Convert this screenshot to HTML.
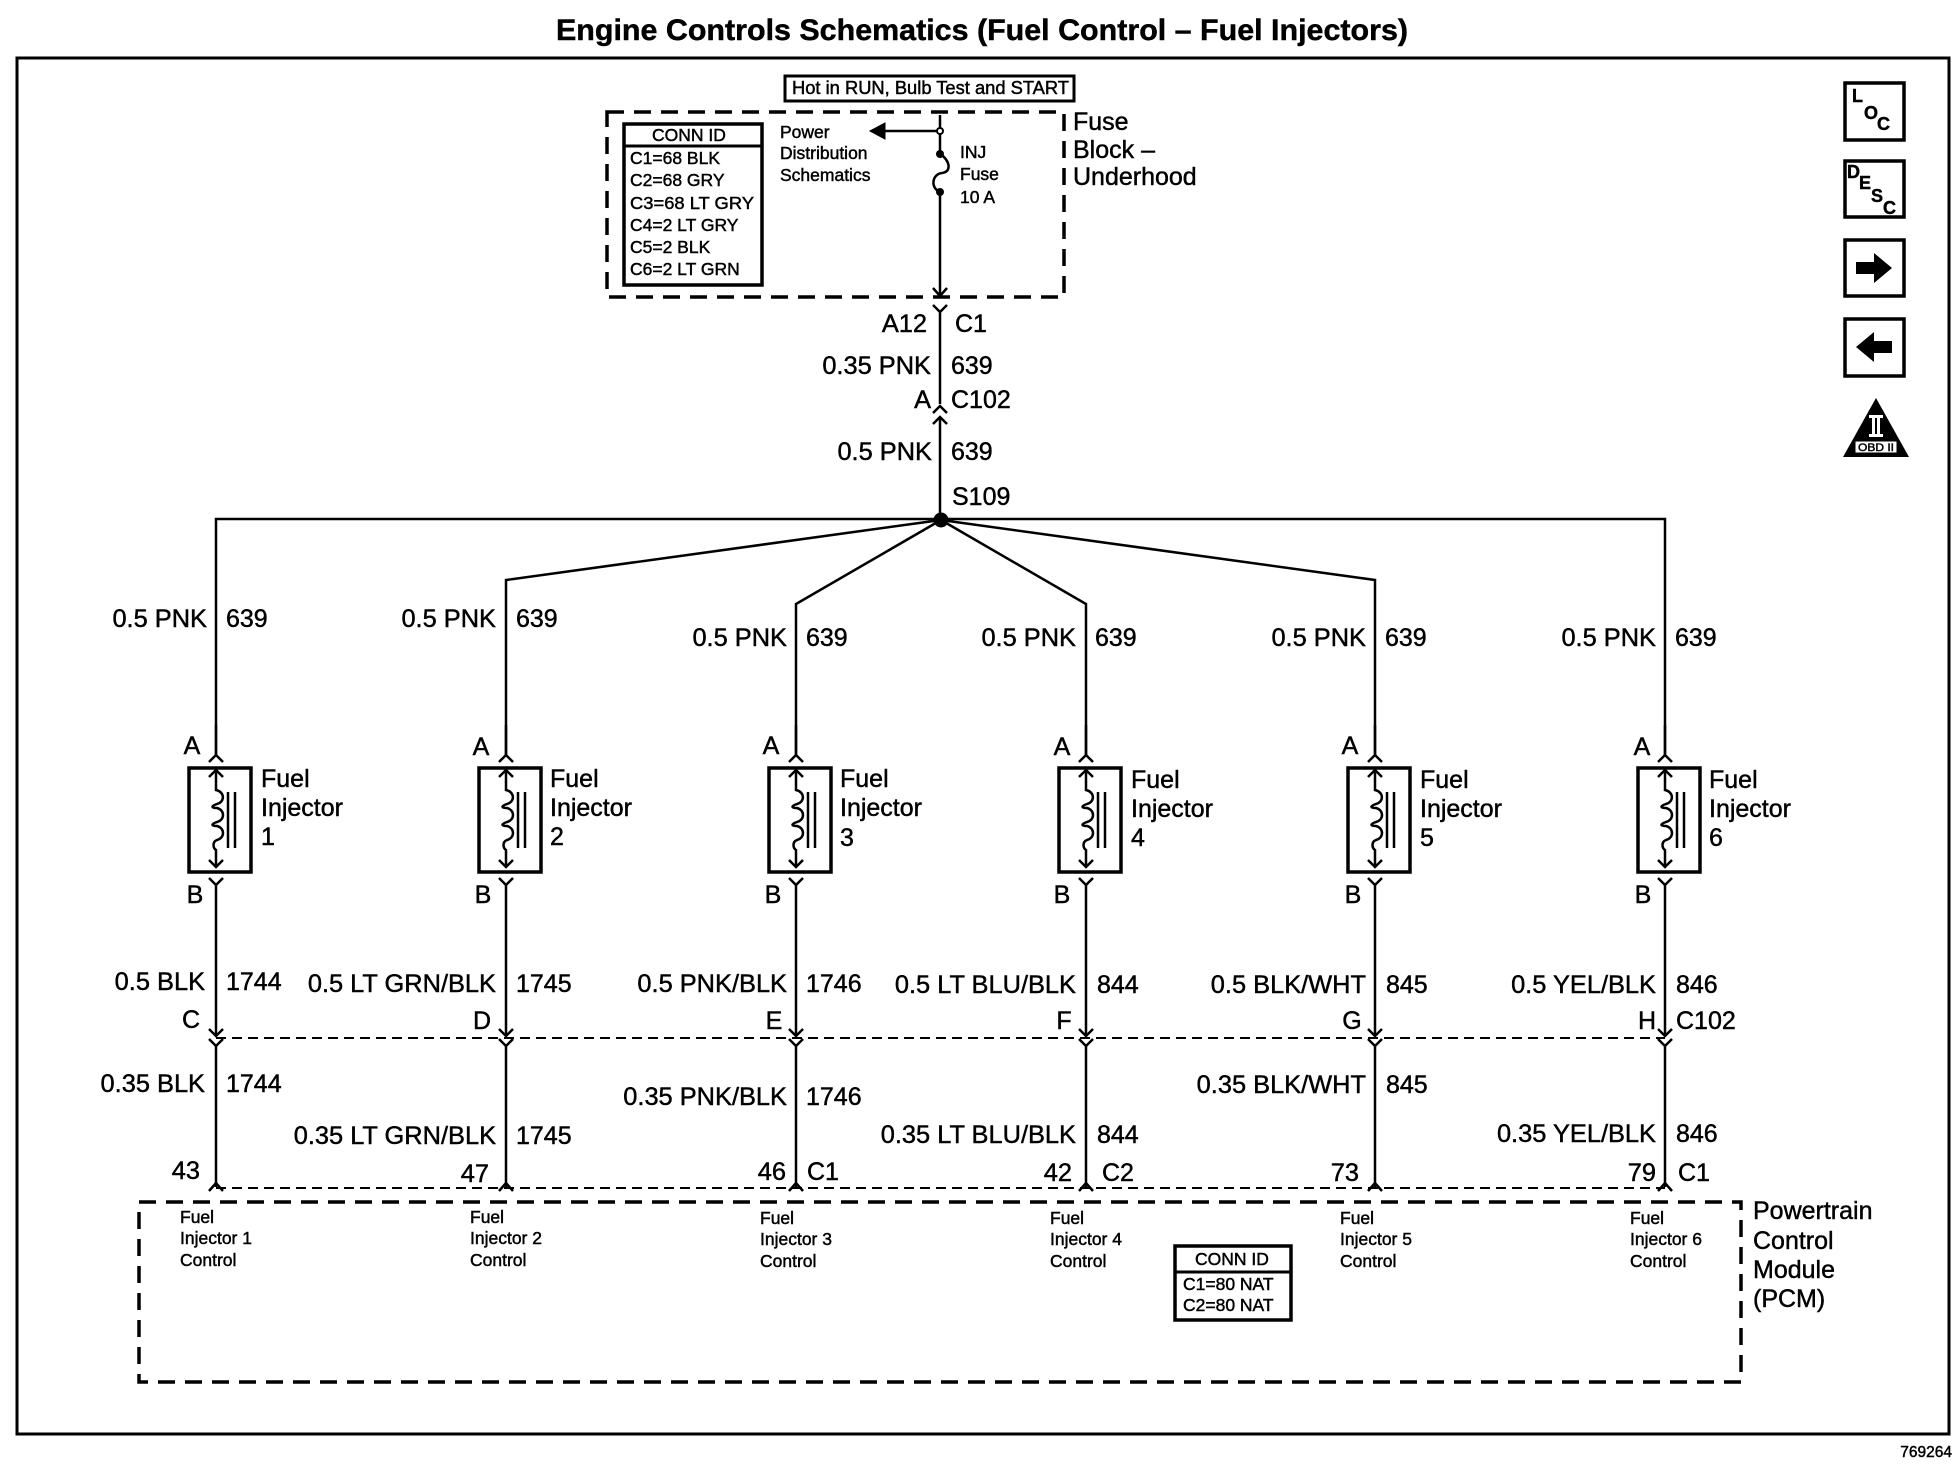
<!DOCTYPE html>
<html>
<head>
<meta charset="utf-8">
<style>
html,body{margin:0;padding:0;background:#fff;width:1958px;height:1472px;overflow:hidden}
svg{display:block}
text{font-family:"Liberation Sans",sans-serif;fill:#000;stroke:#000;stroke-width:.45}
.w{font-size:25px;transform:translate(0,-1.2px)}
.e{text-anchor:end}
.w.e{font-size:25.4px}
.m{text-anchor:middle}
.s{font-size:17.5px;transform:translate(0,-1px)}
.l{fill:none;stroke:#000;stroke-width:2.5}
.d{fill:none;stroke:#000;stroke-width:3.5;stroke-dasharray:17 10}
.t{fill:none;stroke:#000;stroke-width:2;stroke-dasharray:10 6}
.b{fill:#fff;stroke:#000;stroke-width:3.5}
.i{font-weight:bold;font-size:18px}
</style>
</head>
<body>
<svg xmlns="http://www.w3.org/2000/svg" width="1958" height="1472" viewBox="0 0 1958 1472">
<defs>
<g id="inj">
  <rect x="-27" y="768" width="62" height="104" fill="#fff" stroke="#000" stroke-width="3.5"/>
  <path class="l" d="M-7 762L0 755L7 762M0 770L0 790C9 792 9 802 1 804C-5 806 -5 808 1 808C9 810 9 820 1 822C-5 824 -5 826 1 826C9 828 9 838 1 840C-4 842 -3 848 0 850L0 867M-7 777L0 770L7 777M-7 860L0 867L7 860"/>
  <path class="l" d="M12 792V848M19 792V848"/>
  <path class="l" d="M-7 878L0 885L7 878"/>
  <path class="l" d="M-7 1029L0 1036L7 1029M-7 1039L0 1046L7 1039"/>
  <path class="l" d="M0 885V1036M0 1046V1187"/>
  <path class="l" d="M-7 1191L0 1183L7 1191"/>
  <path class="l" d="M0 725V755"/>
</g>
</defs>

<text x="982" y="40" class="m" font-size="29.5" font-weight="bold" textLength="852" lengthAdjust="spacingAndGlyphs">Engine Controls Schematics (Fuel Control – Fuel Injectors)</text>

<rect x="17" y="58" width="1932" height="1376" fill="none" stroke="#000" stroke-width="3"/>

<!-- top block -->
<rect x="785" y="76" width="289" height="25" fill="none" stroke="#000" stroke-width="3"/>
<text x="792" y="94" font-size="18" textLength="277" lengthAdjust="spacingAndGlyphs">Hot in RUN, Bulb Test and START</text>
<rect class="d" x="607" y="112" width="457" height="185"/>
<rect x="624" y="124" width="138" height="161" fill="#fff" stroke="#000" stroke-width="3.5"/>
<path d="M624 146H762" stroke="#000" stroke-width="3"/>
<text x="689" y="141" class="m" font-size="17.5">CONN ID</text>
<text x="630" y="165" class="s">C1=68 BLK</text>
<text x="630" y="187" class="s">C2=68 GRY</text>
<text x="630" y="210" class="s" textLength="124" lengthAdjust="spacingAndGlyphs">C3=68 LT GRY</text>
<text x="630" y="232" class="s">C4=2 LT GRY</text>
<text x="630" y="254" class="s">C5=2 BLK</text>
<text x="630" y="276" class="s">C6=2 LT GRN</text>
<text x="780" y="139" class="s">Power</text>
<text x="780" y="160" class="s">Distribution</text>
<text x="780" y="182" class="s">Schematics</text>
<text x="960" y="159" class="s">INJ</text>
<text x="960" y="181" class="s">Fuse</text>
<text x="960" y="204" class="s">10 A</text>
<text x="1073" y="131" class="w">Fuse</text>
<text x="1073" y="159" class="w">Block –</text>
<text x="1073" y="186" class="w">Underhood</text>
<path class="l" d="M940 115V154M940 192V296M933 288L940 296L947 288M940 131H880"/>
<path d="M870 131L885 123V139Z" fill="#000" stroke="#000"/>
<path class="l" d="M940 154C950 160 952 172 942 173C932 174 930 188 940 192"/>
<circle cx="940" cy="131" r="3" fill="#fff" stroke="#000" stroke-width="2"/>
<circle cx="940" cy="154" r="4" fill="#000"/>
<circle cx="940" cy="192" r="4" fill="#000"/>
<path class="l" d="M933 305L940 312L947 305M940 312V404M933 413L940 406L947 413M940 417V519M933 424L940 417L947 424"/>
<text x="927" y="333" class="w e">A12</text><text x="955" y="333" class="w">C1</text>
<text x="931" y="375" class="w e">0.35 PNK</text><text x="951" y="375" class="w">639</text>
<text x="931" y="409" class="w e">A</text><text x="951" y="409" class="w">C102</text>
<text x="932" y="461" class="w e">0.5 PNK</text><text x="951" y="461" class="w">639</text>
<text x="952" y="506" class="w">S109</text>

<!-- bus -->
<circle cx="941" cy="520" r="7.5" fill="#000"/>
<path class="l" d="M216 755V519H1665V755M941 520L506 580V755M941 520L796 604V755M941 520L1086 604V755M941 520L1375 580V755"/>

<path class="t" d="M216 1038H1665M216 1188H1665"/>

<use href="#inj" x="216"/>
<use href="#inj" x="506"/>
<use href="#inj" x="796"/>
<use href="#inj" x="1086"/>
<use href="#inj" x="1375"/>
<use href="#inj" x="1665"/>

<!-- 639 labels -->
<text x="207" y="628" class="w e">0.5 PNK</text><text x="226" y="628" class="w">639</text>
<text x="496" y="628" class="w e">0.5 PNK</text><text x="516" y="628" class="w">639</text>
<text x="787" y="647" class="w e">0.5 PNK</text><text x="806" y="647" class="w">639</text>
<text x="1076" y="647" class="w e">0.5 PNK</text><text x="1095" y="647" class="w">639</text>
<text x="1366" y="647" class="w e">0.5 PNK</text><text x="1385" y="647" class="w">639</text>
<text x="1656" y="647" class="w e">0.5 PNK</text><text x="1675" y="647" class="w">639</text>

<!-- A / B -->
<text x="192" y="755" class="w m">A</text><text x="195" y="904" class="w m">B</text>
<text x="481" y="756" class="w m">A</text><text x="483" y="904" class="w m">B</text>
<text x="771" y="755" class="w m">A</text><text x="773" y="904" class="w m">B</text>
<text x="1062" y="756" class="w m">A</text><text x="1062" y="904" class="w m">B</text>
<text x="1350" y="755" class="w m">A</text><text x="1353" y="904" class="w m">B</text>
<text x="1642" y="756" class="w m">A</text><text x="1643" y="904" class="w m">B</text>

<!-- Injector names -->
<text x="261" y="788" class="w">Fuel</text><text x="261" y="817" class="w">Injector</text><text x="261" y="846" class="w">1</text>
<text x="550" y="788" class="w">Fuel</text><text x="550" y="817" class="w">Injector</text><text x="550" y="846" class="w">2</text>
<text x="840" y="788" class="w">Fuel</text><text x="840" y="817" class="w">Injector</text><text x="840" y="847" class="w">3</text>
<text x="1131" y="789" class="w">Fuel</text><text x="1131" y="818" class="w">Injector</text><text x="1131" y="847" class="w">4</text>
<text x="1420" y="789" class="w">Fuel</text><text x="1420" y="818" class="w">Injector</text><text x="1420" y="847" class="w">5</text>
<text x="1709" y="789" class="w">Fuel</text><text x="1709" y="818" class="w">Injector</text><text x="1709" y="847" class="w">6</text>

<!-- 0.5 row -->
<text x="205" y="991" class="w e">0.5 BLK</text><text x="226" y="991" class="w">1744</text>
<text x="496" y="993" class="w e">0.5 LT GRN/BLK</text><text x="516" y="993" class="w">1745</text>
<text x="787" y="993" class="w e">0.5 PNK/BLK</text><text x="806" y="993" class="w">1746</text>
<text x="1076" y="994" class="w e">0.5 LT BLU/BLK</text><text x="1097" y="994" class="w">844</text>
<text x="1366" y="994" class="w e">0.5 BLK/WHT</text><text x="1386" y="994" class="w">845</text>
<text x="1656" y="994" class="w e">0.5 YEL/BLK</text><text x="1676" y="994" class="w">846</text>

<text x="191" y="1029" class="w m">C</text>
<text x="482" y="1030" class="w m">D</text>
<text x="774" y="1030" class="w m">E</text>
<text x="1064" y="1030" class="w m">F</text>
<text x="1352" y="1030" class="w m">G</text>
<text x="1647" y="1030" class="w m">H</text>
<text x="1676" y="1030" class="w">C102</text>

<!-- 0.35 row -->
<text x="205" y="1093" class="w e">0.35 BLK</text><text x="226" y="1093" class="w">1744</text>
<text x="496" y="1145" class="w e">0.35 LT GRN/BLK</text><text x="516" y="1145" class="w">1745</text>
<text x="787" y="1106" class="w e">0.35 PNK/BLK</text><text x="806" y="1106" class="w">1746</text>
<text x="1076" y="1144" class="w e">0.35 LT BLU/BLK</text><text x="1097" y="1144" class="w">844</text>
<text x="1366" y="1094" class="w e">0.35 BLK/WHT</text><text x="1386" y="1094" class="w">845</text>
<text x="1656" y="1143" class="w e">0.35 YEL/BLK</text><text x="1676" y="1143" class="w">846</text>

<!-- pins -->
<text x="200" y="1180" class="w e">43</text>
<text x="489" y="1183" class="w e">47</text>
<text x="786" y="1181" class="w e">46</text><text x="807" y="1181" class="w">C1</text>
<text x="1072" y="1182" class="w e">42</text><text x="1102" y="1182" class="w">C2</text>
<text x="1359" y="1182" class="w e">73</text>
<text x="1656" y="1182" class="w e">79</text><text x="1678" y="1182" class="w">C1</text>

<!-- PCM -->
<rect class="d" x="139" y="1202" width="1602" height="180"/>
<text x="180" y="1224" class="s">Fuel</text><text x="180" y="1245" class="s">Injector 1</text><text x="180" y="1267" class="s">Control</text>
<text x="470" y="1224" class="s">Fuel</text><text x="470" y="1245" class="s">Injector 2</text><text x="470" y="1267" class="s">Control</text>
<text x="760" y="1225" class="s">Fuel</text><text x="760" y="1246" class="s">Injector 3</text><text x="760" y="1268" class="s">Control</text>
<text x="1050" y="1225" class="s">Fuel</text><text x="1050" y="1246" class="s">Injector 4</text><text x="1050" y="1268" class="s">Control</text>
<text x="1340" y="1225" class="s">Fuel</text><text x="1340" y="1246" class="s">Injector 5</text><text x="1340" y="1268" class="s">Control</text>
<text x="1630" y="1225" class="s">Fuel</text><text x="1630" y="1246" class="s">Injector 6</text><text x="1630" y="1268" class="s">Control</text>
<rect x="1175" y="1246" width="116" height="74" fill="#fff" stroke="#000" stroke-width="3.5"/>
<path d="M1175 1272H1291" stroke="#000" stroke-width="3"/>
<text x="1232" y="1265" class="m" font-size="17.5">CONN ID</text>
<text x="1183" y="1291" class="s">C1=80 NAT</text>
<text x="1183" y="1312" class="s">C2=80 NAT</text>
<text x="1753" y="1220" class="w">Powertrain</text>
<text x="1753" y="1250" class="w">Control</text>
<text x="1753" y="1279" class="w">Module</text>
<text x="1753" y="1308" class="w">(PCM)</text>

<!-- icons -->
<rect x="1845" y="83" width="59" height="57" class="b"/>
<text x="1852" y="102" class="i">L</text>
<text x="1864" y="119" class="i">O</text>
<text x="1877" y="130" class="i">C</text>
<rect x="1845" y="161" width="59" height="56" class="b"/>
<text x="1847" y="178" class="i">D</text>
<text x="1859" y="189" class="i">E</text>
<text x="1871" y="202" class="i">S</text>
<text x="1883" y="214" class="i">C</text>
<rect x="1845" y="240" width="59" height="56" class="b"/>
<path d="M1856 262H1874V253L1892 268L1874 283V274H1856Z" fill="#000"/>
<rect x="1845" y="319" width="59" height="57" class="b"/>
<path d="M1892 341H1874V332L1856 347L1874 362V353H1892Z" fill="#000"/>
<path d="M1876 398L1909 457H1843Z" fill="#000"/>
<rect x="1869" y="415" width="14" height="3" fill="#fff"/>
<rect x="1869" y="434" width="14" height="3" fill="#fff"/>
<rect x="1872" y="418" width="3" height="16" fill="#fff"/>
<rect x="1877" y="418" width="3" height="16" fill="#fff"/>
<rect x="1855" y="441" width="42" height="12" fill="#fff" stroke="#000"/>
<text x="1876" y="451" class="m" font-size="11" textLength="36" lengthAdjust="spacingAndGlyphs">OBD II</text>

<text x="1952" y="1457" class="e" font-size="15.5">769264</text>
</svg>
</body>
</html>
